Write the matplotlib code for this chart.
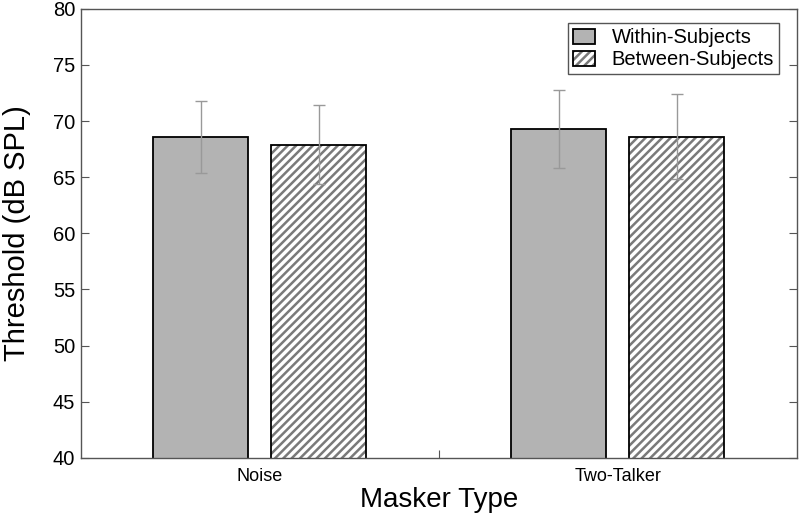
import matplotlib.pyplot as plt
import numpy as np

plt.rcParams['font.family'] = ['Liberation Sans', 'DejaVu Sans']
plt.rcParams['hatch.linewidth'] = 1.8

categories = ['Noise', 'Two-Talker']
within = [68.6, 69.3]
within_err = [3.2, 3.5]
between = [67.9, 68.6]
between_err = [3.5, 3.8]

x = np.array([1, 2])
w = 0.265
off = 0.165

fig = plt.figure(figsize=(8, 5.15), dpi=100)
ax = fig.add_axes([0.101, 0.111, 0.895, 0.872])

b1 = ax.bar(x - off, within, w, color='#b3b3b3', edgecolor='black', linewidth=1.3,
            zorder=2)
# hatch takes the edge colour, so draw the outline as a second bar on top
b2 = ax.bar(x + off, between, w, color='white', edgecolor='#7a7a7a', linewidth=0,
            hatch='////', zorder=2)
b3 = ax.bar(x + off, between, w, fill=False, edgecolor='black', linewidth=1.3,
            zorder=2)
ax.errorbar(x - off, within, yerr=within_err, fmt='none', ecolor='#999999',
            elinewidth=1, capsize=4, capthick=1, zorder=3)
ax.errorbar(x + off, between, yerr=between_err, fmt='none', ecolor='#999999',
            elinewidth=1, capsize=4, capthick=1, zorder=3)

ax.set_xlim(0.5, 2.5)
ax.set_ylim(40, 80)
ax.set_yticks(np.arange(40, 81, 5))
ax.set_xticks([1.5])
ax.set_xticklabels([''])
ax.set_xticks(x, minor=True)
ax.set_xticklabels(categories, minor=True, fontsize=13)
ax.tick_params(axis='x', which='minor', length=0, pad=7)
ax.tick_params(axis='x', which='major', direction='in', length=6, color='#555555')
ax.tick_params(axis='y', direction='in', length=6, right=True, labelsize=14.5,
               color='#555555', pad=4)
for s in ax.spines.values():
    s.set_color('#555555')
    s.set_linewidth(1)

ax.set_ylabel('Threshold (dB SPL)', fontsize=21, labelpad=16)
ax.set_xlabel('Masker Type', fontsize=20, labelpad=2)

leg = ax.legend([b1, (b2, b3)], ['Within-Subjects', 'Between-Subjects'],
                loc='upper right', fontsize=14.5, fancybox=False, framealpha=1,
                edgecolor='#555555', handlelength=1.1, handleheight=0.75,
                handletextpad=0.8, borderpad=0.25, labelspacing=0.15,
                borderaxespad=0, bbox_to_anchor=(0.975, 0.968))
leg.get_frame().set_linewidth(1)

fig.savefig('out.png', dpi=100)
